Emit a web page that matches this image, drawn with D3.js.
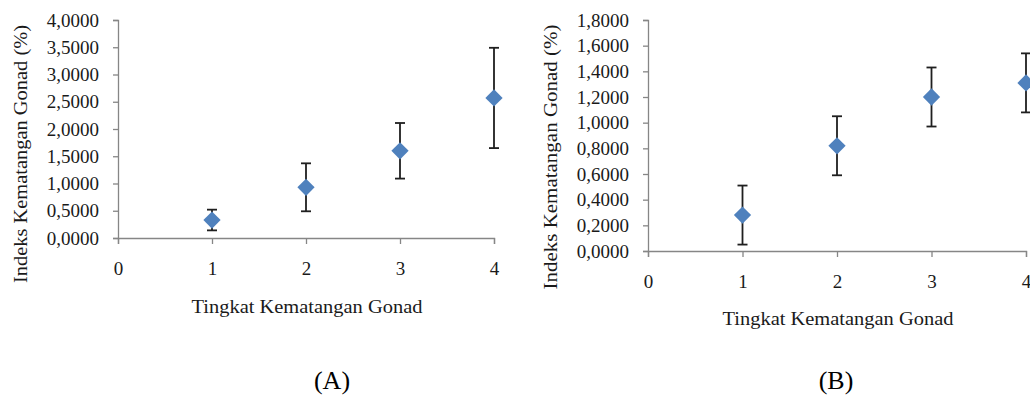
<!DOCTYPE html>
<html>
<head>
<meta charset="utf-8">
<script src="https://cdn.jsdelivr.net/npm/d3@7"></script>
<style>
  body { margin: 0; background: #fff; }
  svg { display: block; }
</style>
</head>
<body>
<svg id="chart" width="1030" height="398"></svg>
<script>
// stage of gonad maturity (TKG)
const stages = [1, 2, 3, 4];
const xTicks = [0, 1, 2, 3, 4];

// panel A
const meanA = [0.33, 0.93, 1.60, 2.57];
const errA = [0.19, 0.44, 0.51, 0.92];
const yTicksA = [0, 0.5, 1, 1.5, 2, 2.5, 3, 3.5, 4];

// panel B
const meanB = [0.28, 0.82, 1.20, 1.31];
const errB = [0.23, 0.23, 0.23, 0.23];
const yTicksB = [0, 0.2, 0.4, 0.6, 0.8, 1.0, 1.2, 1.4, 1.6, 1.8];

const xTitle = "Tingkat Kematangan Gonad";
const yTitle = "Indeks Kematangan Gonad (%)";

const fmt = d3.formatLocale({ decimal: ",", thousands: ".", grouping: [3], currency: ["", ""] }).format(".4f");

const svg = d3.select("#chart");
const axisColor = "#868686";
const textColor = "#1a1a1a";
const serif = "'Liberation Serif', 'Times New Roman', serif";

function drawPanel(opt) {
  const x = d3.scaleLinear().domain([0, 4]).range([opt.left, opt.right]);
  const y = d3.scaleLinear().domain([0, opt.yMax]).range([opt.bottom, opt.top]);
  const g = svg.append("g");

  // y axis
  const yAxis = g.append("g")
    .attr("transform", "translate(" + opt.left + ",0)")
    .call(d3.axisLeft(y).tickValues(opt.yTicks).tickFormat(fmt).tickSize(5).tickPadding(14));
  yAxis.select(".domain").attr("stroke", axisColor).attr("stroke-width", 1.3);
  yAxis.selectAll(".tick line").attr("stroke", axisColor).attr("stroke-width", 1.3);
  yAxis.selectAll(".tick text")
    .attr("fill", textColor)
    .style("font-family", serif)
    .style("font-size", "19px");

  // x axis
  const xAxis = g.append("g")
    .attr("transform", "translate(0," + opt.bottom + ")")
    .call(d3.axisBottom(x).tickValues(xTicks).tickFormat(d3.format("d")).tickSize(6).tickSizeOuter(6).tickPadding(opt.xPad));
  xAxis.select(".domain").attr("stroke", axisColor).attr("stroke-width", 1.3);
  xAxis.selectAll(".tick line").attr("stroke", axisColor).attr("stroke-width", 1.3);
  xAxis.selectAll(".tick text")
    .attr("fill", textColor)
    .style("font-family", serif)
    .style("font-size", "19px");

  const pts = stages.map((s, i) => ({ s: s, m: opt.mean[i], e: opt.err[i] }));

  // error bars
  const eb = g.selectAll(".eb").data(pts).enter().append("g")
    .attr("stroke", "#1f1f1f").attr("stroke-width", 1.8);
  eb.append("line")
    .attr("x1", d => x(d.s)).attr("x2", d => x(d.s))
    .attr("y1", d => y(d.m - d.e)).attr("y2", d => y(d.m + d.e));
  eb.append("line")
    .attr("x1", d => x(d.s) - 5).attr("x2", d => x(d.s) + 5)
    .attr("y1", d => y(d.m + d.e)).attr("y2", d => y(d.m + d.e));
  eb.append("line")
    .attr("x1", d => x(d.s) - 5).attr("x2", d => x(d.s) + 5)
    .attr("y1", d => y(d.m - d.e)).attr("y2", d => y(d.m - d.e));

  // diamond markers
  g.selectAll(".pt").data(pts).enter().append("path")
    .attr("d", d3.symbol().type(d3.symbolDiamond2).size(190))
    .attr("transform", d => "translate(" + x(d.s) + "," + y(d.m) + ")")
    .attr("fill", "#4f81bd");

  // axis titles
  g.append("text")
    .attr("x", opt.xTitleX).attr("y", opt.xTitleY)
    .attr("text-anchor", "middle")
    .attr("textLength", 231).attr("lengthAdjust", "spacingAndGlyphs")
    .attr("fill", textColor)
    .style("font-family", serif).style("font-size", "19px")
    .text(xTitle);

  g.append("text")
    .attr("transform", "translate(" + opt.yTitleX + "," + opt.yTitleY + ") rotate(-90)")
    .attr("text-anchor", "middle")
    .attr("textLength", opt.yTitleLen).attr("lengthAdjust", "spacingAndGlyphs")
    .attr("fill", textColor)
    .style("font-family", serif).style("font-size", "19px")
    .text(yTitle);

  g.append("text")
    .attr("x", opt.labelX).attr("y", 389)
    .attr("text-anchor", "middle")
    .attr("fill", "#000")
    .style("font-family", serif).style("font-size", "26px")
    .text(opt.label);
}

drawPanel({
  left: 118, right: 494, top: 20, bottom: 238,
  yMax: 4, yTicks: yTicksA, mean: meanA, err: errA, xPad: 18,
  xTitleX: 307, xTitleY: 313,
  yTitleX: 27, yTitleY: 154, yTitleLen: 258,
  labelX: 332, label: "(A)"
});

drawPanel({
  left: 648, right: 1026, top: 20, bottom: 251,
  yMax: 1.8, yTicks: yTicksB, mean: meanB, err: errB, xPad: 18,
  xTitleX: 838, xTitleY: 325,
  yTitleX: 557, yTitleY: 157, yTitleLen: 265,
  labelX: 836, label: "(B)"
});
</script>
</body>
</html>
